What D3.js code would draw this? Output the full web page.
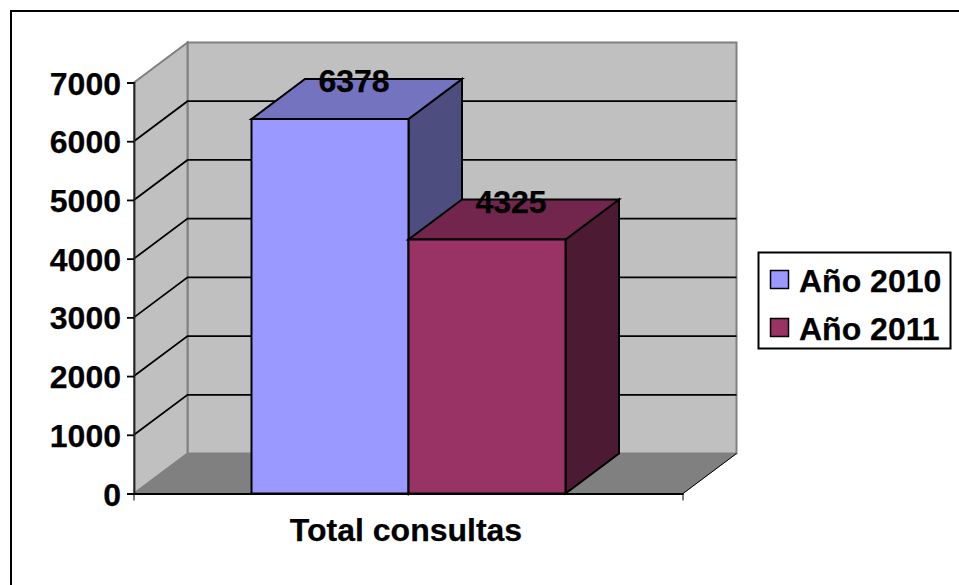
<!DOCTYPE html>
<html><head><meta charset="utf-8">
<script src="https://cdn.jsdelivr.net/npm/d3@7/dist/d3.min.js"></script>
<style>html,body{margin:0;padding:0;background:#fff}svg{display:block}text{font-family:"Liberation Sans",Arial,sans-serif;font-weight:bold;fill:#000;stroke:#000;stroke-width:.25px}</style>
</head><body><script>
const categories = ["Total consultas"];
const seriesNames = ["Año 2010", "Año 2011"];
const seriesValues = [6378, 4325];
const seriesColors = ["#9999ff", "#993366"];
const topColors = ["#7373bf", "#73264d"];
const sideColors = ["#4d4d80", "#4d1a33"];
const yTicks = [0,1000,2000,3000,4000,5000,6000,7000];

const W=959,H=585,FS="32px";
const dx=53.5, dy=-40;
const svg=d3.select("body").append("svg").attr("width",W).attr("height",H);
svg.append("path").attr("d",`M11,${H}V11H${W}`).attr("fill","none").attr("stroke","#000").attr("stroke-width",2);

const y=d3.scaleLinear().domain([0,7000]).range([493.5,82.5]);
const x=d3.scaleBand().domain(categories).range([134,683]);
const xs=d3.scaleBand().domain(seriesNames).range([x(categories[0])+117.5,x(categories[0])+117.5+314]);
const poly=(pts,f,s,w)=>svg.append("polygon").attr("points",pts.map(p=>p.join(",")).join(" ")).attr("fill",f).attr("stroke",s).attr("stroke-width",w);

const x0=x.range()[0],x1=x.range()[1],y0=y(0),yT=y(7000);
const grey="#808080";
poly([[x0+dx,yT+dy],[x1+dx,yT+dy],[x1+dx,y0+dy],[x0+dx,y0+dy]],"#c0c0c0",grey,2);
poly([[x0,yT],[x0+dx,yT+dy],[x0+dx,y0+dy],[x0,y0]],"#c0c0c0",grey,2);
poly([[x0,y0],[x0+dx,y0+dy],[x1+dx,y0+dy],[x1,y0]],"#808080",grey,1);
yTicks.slice(1,-1).forEach(t=>{
  svg.append("path").attr("d",`M${x0},${y(t)}L${x0+dx},${y(t)+dy}L${x1+dx},${y(t)+dy}`).attr("fill","none").attr("stroke","#000").attr("stroke-width",1.8);
});
const yAxis=d3.axisLeft(y).tickValues(yTicks).tickSize(7).tickPadding(6).tickFormat(d3.format("d"));
const gy=svg.append("g").attr("transform",`translate(${x0},0)`).call(yAxis);
gy.selectAll("text").style("font-size",FS).attr("dy","0.36em");
gy.selectAll("line,path").attr("stroke","#000").attr("stroke-width",1.8);
gy.select("path.domain").attr("stroke","#222");

seriesValues.forEach((v,i)=>{
  const bx=xs(seriesNames[i]),bw=xs.bandwidth(),by=y(v);
  const st="#000",sw=2;
  poly([[bx+bw,by],[bx+bw+dx,by+dy],[bx+bw+dx,y0+dy],[bx+bw,y0]],sideColors[i],st,sw);
  poly([[bx,by],[bx+dx,by+dy],[bx+bw+dx,by+dy],[bx+bw,by]],topColors[i],st,sw);
  poly([[bx,by],[bx+bw,by],[bx+bw,y0],[bx,y0]],seriesColors[i],st,sw);
});
const xAxis=d3.axisBottom(x).tickValues([]).tickSize(0);
const gx=svg.append("g").attr("transform",`translate(0,${y0})`).call(xAxis);
gx.selectAll("path").attr("stroke","#000").attr("stroke-width",2);
[x0,xs(seriesNames[1]),x1].forEach(t=>svg.append("line").attr("x1",t).attr("x2",t).attr("y1",y0).attr("y2",y0+(t===xs(seriesNames[1])?2:7)).attr("stroke","#000").attr("stroke-width",1));
svg.append("line").attr("x1",x1).attr("y1",y0).attr("x2",x1+dx).attr("y2",y0+dy).attr("stroke","#000").attr("stroke-width",1);
svg.append("text").attr("x",406).attr("y",541).attr("text-anchor","middle").style("font-size",FS).text(categories[0]);
seriesValues.forEach((v,i)=>{
  svg.append("text").attr("x",xs(seriesNames[i])+xs.bandwidth()/2+24).attr("y",y(v)+dy+13).attr("text-anchor","middle").style("font-size",FS).text(v);
});
svg.append("rect").attr("x",758.5).attr("y",252.5).attr("width",192).attr("height",96).attr("fill","#fff").attr("stroke","#000").attr("stroke-width",2);
const ly=d3.scalePoint().domain(seriesNames).range([279.5,327.5]);
seriesNames.forEach((n,i)=>{
  svg.append("rect").attr("x",770.5).attr("y",ly(n)-9).attr("width",18).attr("height",18).attr("fill",seriesColors[i]).attr("stroke","#000").attr("stroke-width",1.5);
  svg.append("text").attr("x",799).attr("y",ly(n)+12).style("font-size",FS).text(n);
});
</script></body></html>
